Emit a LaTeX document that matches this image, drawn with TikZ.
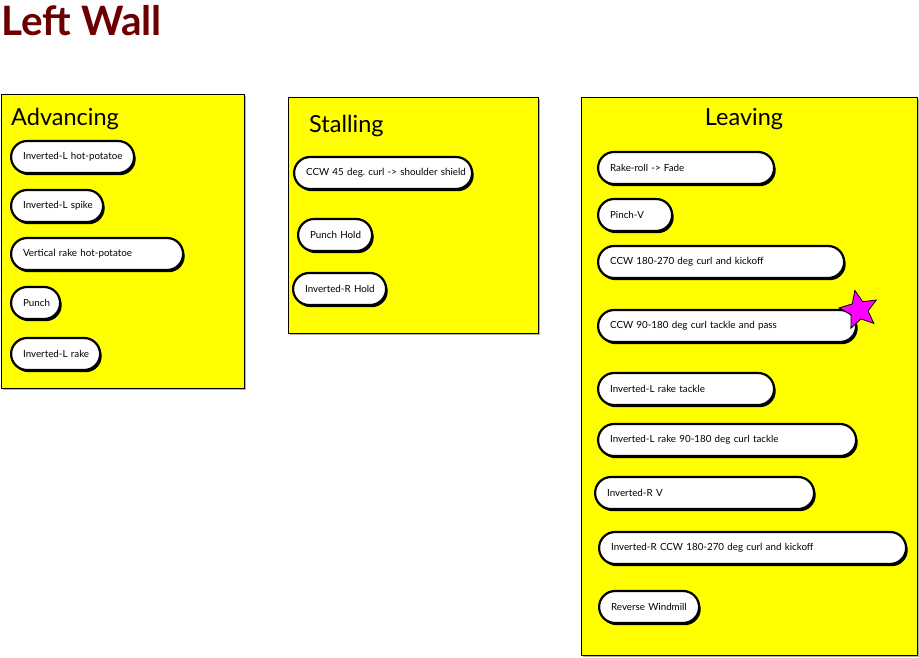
\documentclass[tikz,border=0pt]{standalone}
\usepackage{fontspec}
\setmainfont{Lato}
\frenchspacing
\usetikzlibrary{positioning, shapes.geometric, shadows}
\definecolor{wallred}{RGB}{108,0,0}
\definecolor{starpink}{RGB}{255,0,255}
\definecolor{notepad}{RGB}{255,255,0}
\tikzset{
    walltitle/.style={anchor=base west, font=\fontsize{40.5}{46}\selectfont\bfseries, text=wallred, inner sep=0pt},
    panel/.style={rectangle, draw=black, line width=1.4pt, fill=notepad, inner sep=0pt, anchor=north west, drop shadow={shadow xshift=1.5pt, shadow yshift=-1.5pt, fill=gray!60, opacity=1}},
    paneltitle/.style={font=\fontsize{23.5}{28}\selectfont, text=black, inner sep=0pt},
    pill/.style={rectangle, rounded corners=16pt, draw=black, line width=2.2pt, fill=white, anchor=west, text width=#1, align=left, inner xsep=12pt, inner ysep=0pt, minimum height=32pt, font=\fontsize{9.8}{12}\selectfont, execute at begin node=\hbox\bgroup, execute at end node=\egroup, drop shadow={shadow xshift=1.6pt, shadow yshift=-2.2pt, fill=black, opacity=1}},
    flag/.style={star, star points=5, star point ratio=2.2, minimum size=40pt, inner sep=0pt, draw=black, line width=0.8pt, fill=starpink, rotate=12}
}
\begin{document}
\begin{tikzpicture}[x=1pt, y=-1pt]
\useasboundingbox (0,0) rectangle (919,657);
\node[walltitle] (title) at (1,35) {Left Wall};

\node[panel, minimum width=243pt, minimum height=294pt] (adv) at (1,94) {};
\node[panel, minimum width=250pt, minimum height=236pt] (stall) at (288,97) {};
\node[panel, minimum width=336pt, minimum height=558pt] (leave) at (581,97) {};

\node[paneltitle, anchor=base west] (advtitle) at (11,125) {Advancing};
\node[paneltitle, anchor=base west] (stalltitle) at (309,132) {Stalling};
\node[paneltitle, anchor=base] (leavetitle) at (744,125) {Leaving};

\node[pill=99pt]  (adv1) at (10,157) {Inverted-L hot-potatoe};
\node[pill=68pt]  (adv2) at (10,206) {Inverted-L spike};
\node[pill=148pt] (adv3) at (10,254) {Vertical rake hot-potatoe};
\node[pill=25pt]  (adv4) at (10,303) {Punch};
\node[pill=65pt]  (adv5) at (10,354) {Inverted-L rake};

\node[pill=154pt] (stall1) at (293,173) {CCW 45 deg. curl -> shoulder shield};
\node[pill=50pt]  (stall2) at (297,235) {Punch Hold};
\node[pill=69pt]  (stall3) at (292,289) {Inverted-R Hold};

\node[pill=152pt] (leave1) at (597,168) {Rake-roll -> Fade};
\node[pill=50pt]  (leave2) at (597,215) {Pinch-V};
\node[pill=222pt] (leave3) at (597,262) {CCW 180-270 deg curl and kickoff};
\node[pill=234pt] (leave4) at (597,326) {CCW 90-180 deg curl tackle and pass};
\node[pill=152pt] (leave5) at (597,389) {Inverted-L rake tackle};
\node[pill=234pt] (leave6) at (597,440) {Inverted-L rake 90-180 deg curl tackle};
\node[pill=195pt] (leave7) at (594,493) {Inverted-R V};
\node[pill=283pt] (leave8) at (598,548) {Inverted-R CCW 180-270 deg curl and kickoff};
\node[pill=76pt]  (leave9) at (598,607) {Reverse Windmill};

\node[flag] (fav) at (859,310) {};
\end{tikzpicture}
\end{document}
